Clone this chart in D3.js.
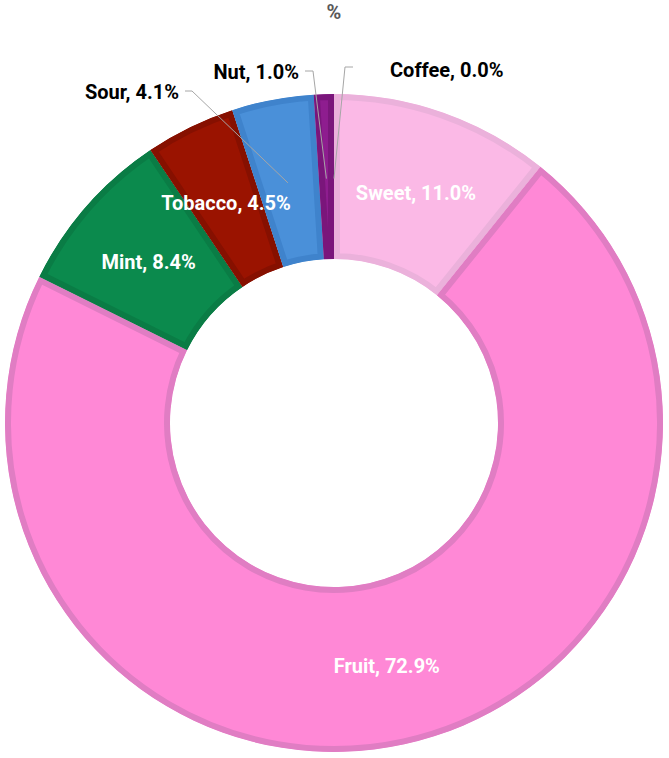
<!DOCTYPE html>
<html>
<head>
<meta charset="utf-8">
<script src="https://d3js.org/d3.v7.min.js"></script>
<style>
  html, body { margin: 0; padding: 0; background: #fff; }
  #chart { width: 669px; height: 758px; }
  text { font-family: "Roboto", "Liberation Sans", sans-serif; font-weight: bold; }
</style>
</head>
<body>
<div id="chart"></div>
<script>
// 数据：按顺时针顺序（从 12 点钟方向开始）
const categories = ["Sweet", "Fruit", "Mint", "Tobacco", "Sour", "Nut", "Coffee"];
const values = [11.0, 72.9, 8.4, 4.5, 4.1, 1.0, 0.0];
const titleText = "%";

// 样式
const fills = ["#FBB9E6", "#FF88D6", "#0B8A4D", "#9A1300", "#4A90D9", "#8E1D8F", "#6B4226"];
const borders = ["#EBB1DB", "#E07DC3", "#0A7C45", "#861000", "#3F83CC", "#7A167B", "#5a3820"];
// 外部标签的位置（相对于画布）
const outsideLabels = {
  "Sour":   {x: 179, y: 92,  anchor: "end",   lineStart: [185, 91], elbow: [192, 91]},
  "Nut":    {x: 299, y: 72,  anchor: "end",   lineStart: [305, 71], elbow: [313, 71]},
  "Coffee": {x: 390, y: 70,  anchor: "start", lineStart: [353, 67], elbow: [345, 67]}
};

document.addEventListener('DOMContentLoaded', function () {
  const width = 669, height = 758;
  const cx = 334, cy = 423;
  const outerR = 329, innerR = 164, borderW = 6;

  const svg = d3.select("#chart").append("svg")
    .attr("width", width)
    .attr("height", height);

  const defs = svg.append("defs");
  const g = svg.append("g").attr("transform", `translate(${cx},${cy})`);

  const data = categories.map((c, i) => ({name: c, value: values[i], i: i}));

  const pie = d3.pie().value(d => d.value).sort(null);
  const arc = d3.arc().innerRadius(innerR).outerRadius(outerR);
  const midR = (innerR + outerR) / 2;
  const labelArc = d3.arc().innerRadius(midR).outerRadius(midR);

  const arcs = pie(data);

  // 扇形（边框画在扇形内侧）
  arcs.filter(d => d.data.value > 0).forEach(d => {
    const id = "clip-" + d.data.i;
    defs.append("clipPath").attr("id", id)
      .append("path").attr("d", arc(d));
    g.append("path")
      .attr("d", arc(d))
      .attr("fill", fills[d.data.i])
      .attr("stroke", borders[d.data.i])
      .attr("stroke-width", borderW * 2)
      .attr("stroke-linejoin", "miter")
      .attr("clip-path", `url(#${id})`);
  });

  // 标签
  const fmt = d3.format(".1f");
  arcs.forEach(d => {
    const label = `${d.data.name}, ${fmt(d.data.value)}%`;
    const [lx, ly] = labelArc.centroid(d);
    const out = outsideLabels[d.data.name];
    if (out) {
      // 引导线
      const pts = [out.lineStart, out.elbow, [lx + cx, ly + cy + 2]];
      svg.append("polyline")
        .attr("points", pts.map(p => p.join(",")).join(" "))
        .attr("fill", "none")
        .attr("stroke", "#A6A6A6")
        .attr("stroke-width", 1);
      svg.append("text")
        .attr("x", out.x)
        .attr("y", out.y)
        .attr("text-anchor", out.anchor)
        .attr("dominant-baseline", "central")
        .attr("font-size", 20)
        .attr("fill", "#000")
        .text(label);
    } else {
      g.append("text")
        .attr("x", lx)
        .attr("y", ly + 2)
        .attr("text-anchor", "middle")
        .attr("dominant-baseline", "central")
        .attr("font-size", 20)
        .attr("fill", "#fff")
        .text(label);
    }
  });

  // 标题（被截断）
  svg.append("text")
    .attr("x", cx)
    .attr("y", 19)
    .attr("text-anchor", "middle")
    .attr("font-size", 20)
    .attr("fill", "#595959")
    .text(titleText);
});
</script>
</body>
</html>
